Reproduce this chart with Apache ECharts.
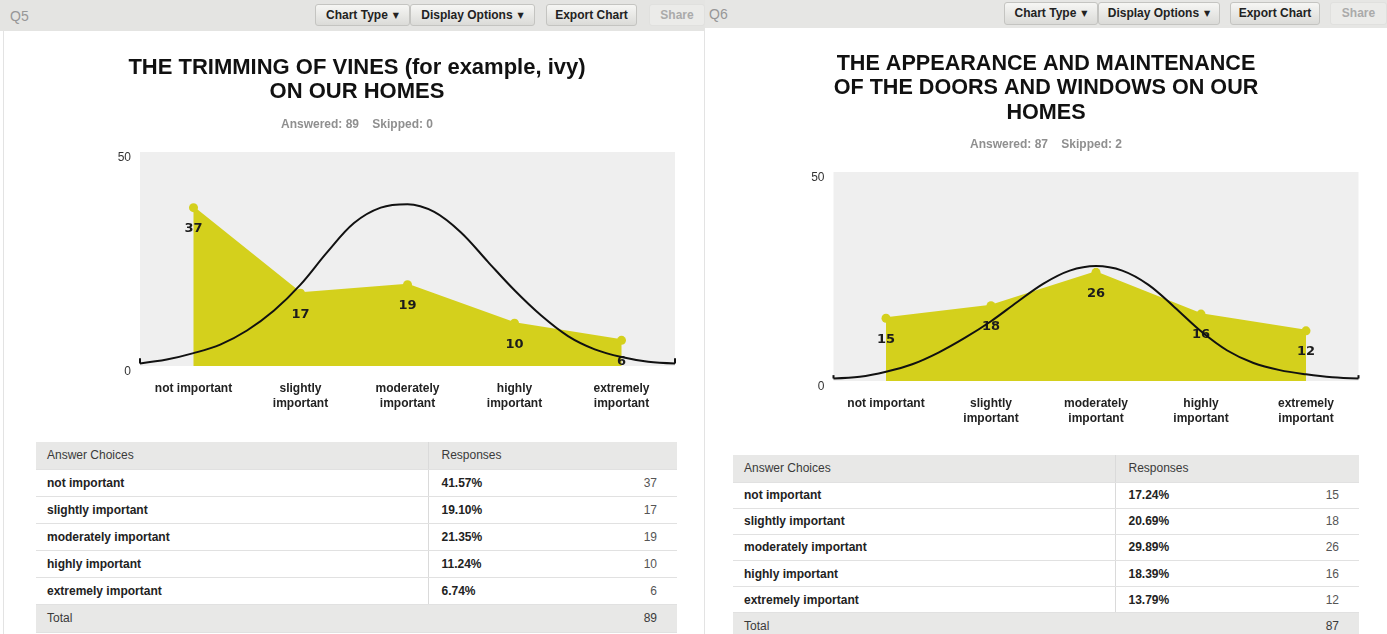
<!DOCTYPE html>
<html>
<head>
<meta charset="utf-8">
<script src="https://cdn.jsdelivr.net/npm/echarts@6/dist/echarts.min.js"></script>
<style>
body {
    margin: 0;
    width: 1387px;
    height: 634px;
    overflow: hidden;
    background: #fff;
    position: relative;
    font-family: "Liberation Sans", Arial, sans-serif;
}
.bar { position: absolute; top: 0; background: #e4e4e2; z-index: 2; }
.q { position: absolute; color: #979797; font-size: 14px; z-index: 3; }
.btn {
    position: absolute;
    box-sizing: border-box;
    font-size: 12px;
    font-weight: bold;
    color: #222;
    text-align: center;
    border: 1px solid #c4c4c1;
    border-radius: 3px;
    background: linear-gradient(#f6f6f4, #dbdbd8);
    z-index: 3;
}
.btn .arr { font-family: "DejaVu Sans"; font-size: 8px; margin-left: 5px; position: relative; top: -1px; }
.btn.off { color: #aaa; background: #ebebe9; border-color: #e0e0de; }
.frame { position: absolute; left: 3px; top: 30px; width: 700px; height: 610px; border: 1px solid #e3e3e3; }
.chart { position: absolute; top: 0; }
table { position: absolute; border-collapse: collapse; font-size: 12px; color: #222; table-layout: fixed; }
td { padding: 0; white-space: nowrap; border-bottom: 1px solid #e1e1e1; }
tr.head td, tr.total td { background: #e8e8e7; font-weight: normal; color: #3a3a3a; }
td.name { padding-left: 11px; font-weight: bold; }
td.pct { padding-left: 13px; font-weight: bold; border-left: 1px solid #dadada; }
td.cnt { text-align: right; padding-right: 20px; color: #555; }
tr.total td.pct { border-left: none; }
</style>
</head>
<body>
<div class="frame"></div>

<div class="bar" style="left:0;width:705px;height:31px"></div>
<div class="q" style="left:10px;top:8px">Q5</div>
<div class="btn" style="left:315px;top:4px;width:95px;height:22px;line-height:20px">Chart Type<span class="arr">▼</span></div>
<div class="btn" style="left:410px;top:4px;width:125px;height:22px;line-height:20px">Display Options<span class="arr">▼</span></div>
<div class="btn" style="left:546px;top:4px;width:91px;height:22px;line-height:20px">Export Chart</div>
<div class="btn off" style="left:649px;top:4px;width:56px;height:22px;line-height:20px">Share</div>

<div class="bar" style="left:705px;width:682px;height:28px;background:#e6e6e4"></div>
<div class="q" style="left:709px;top:6px">Q6</div>
<div class="btn" style="left:1004px;top:2px;width:94px;height:23px;line-height:21px">Chart Type<span class="arr">▼</span></div>
<div class="btn" style="left:1098px;top:2px;width:122px;height:23px;line-height:21px">Display Options<span class="arr">▼</span></div>
<div class="btn" style="left:1230px;top:2px;width:90px;height:23px;line-height:21px">Export Chart</div>
<div class="btn off" style="left:1330px;top:2px;width:57px;height:23px;line-height:21px">Share</div>

<div class="chart" id="chartQ5" style="left:0;width:714px;height:440px"></div>
<div class="chart" id="chartQ6" style="left:705px;width:682px;height:450px"></div>

<table id="tableQ5"></table>
<table id="tableQ6"></table>

<script>
// answer choices
const choices = ["not important", "slightly important", "moderately important", "highly important", "extremely important"]
const axisLabels = ["not important", "slightly\nimportant", "moderately\nimportant", "highly\nimportant", "extremely\nimportant"]

// Q5
const q5Title = ["THE TRIMMING OF VINES (for example, ivy)", "ON OUR HOMES"]
const q5Answered = 89
const q5Skipped = 0
const q5Counts = [37, 17, 19, 10, 6]
const q5Percents = ["41.57%", "19.10%", "21.35%", "11.24%", "6.74%"]

// Q6
const q6Title = ["THE APPEARANCE AND MAINTENANCE", "OF THE DOORS AND WINDOWS ON OUR", "HOMES"]
const q6Answered = 87
const q6Skipped = 2
const q6Counts = [15, 18, 26, 16, 12]
const q6Percents = ["17.24%", "20.69%", "29.89%", "18.39%", "13.79%"]

// bell curve at quarter steps of the category axis
const bellX = [-0.5, -0.25, 0, 0.25, 0.5, 0.75, 1, 1.25, 1.5, 1.75, 2, 2.25, 2.5, 2.75, 3, 3.25, 3.5, 3.75, 4, 4.25, 4.5]
const q5Bell = [0.6, 1.5, 3.0, 5.0, 8.3, 12.9, 19.0, 26.6, 33.4, 37.0, 37.8, 36.0, 31.2, 24.4, 17.7, 11.8, 7.0, 3.9, 2.1, 1.0, 0.6]
const q6Bell = [0.6, 1.0, 2.2, 4.0, 6.8, 10.3, 14.3, 18.9, 23.3, 26.4, 27.5, 26.4, 23.0, 17.6, 11.9, 7.3, 4.3, 2.6, 1.6, 0.9, 0.6]
const q5TickTop = 1.8
const q6TickTop = 1.4

const yTicks = [0, 50]

const fill = "#d4d01c"
const font = "Liberation Sans"

function makeOption(titleLines, sub, counts, bell, tickTop, g) {
    let titles = titleLines.map((t, i) => ({
        text: t,
        left: "center",
        top: g.titleTop + i * g.titleStep,
        padding: 0,
        textStyle: { fontFamily: font, fontSize: g.titleSize, fontWeight: "bold", color: "#111", lineHeight: 22 }
    }))
    titles.push({
        text: sub,
        left: "center",
        top: g.subTop,
        padding: 0,
        textStyle: { fontFamily: font, fontSize: 12, fontWeight: "bold", color: "#8f8f8f", lineHeight: 14 }
    })
    const last = bellX.length - 1
    return {
        animation: false,
        title: titles,
        grid: {
            left: g.left,
            right: g.right,
            top: g.top,
            height: g.height,
            show: true,
            backgroundColor: "#efefef",
            borderWidth: 0
        },
        xAxis: [
            {
                type: "category",
                data: axisLabels,
                boundaryGap: true,
                axisLine: { show: false },
                axisTick: { show: false },
                axisLabel: {
                    interval: 0,
                    margin: 15,
                    fontFamily: font,
                    fontSize: 12,
                    fontWeight: "bold",
                    color: "#222",
                    lineHeight: 15
                }
            },
            { type: "value", min: -0.5, max: 4.5, show: false }
        ],
        yAxis: {
            type: "value",
            min: yTicks[0],
            max: yTicks[1],
            interval: yTicks[1] - yTicks[0],
            splitLine: { show: false },
            axisLine: { show: false },
            axisTick: { show: false },
            axisLabel: { margin: 9, fontFamily: font, fontSize: 12, color: "#333", verticalAlign: "top", lineHeight: 12 }
        },
        series: [
            {
                type: "line",
                data: counts,
                symbol: "circle",
                symbolSize: 9,
                itemStyle: { color: fill },
                lineStyle: { color: fill, width: 2 },
                areaStyle: { color: fill, opacity: 1 },
                label: {
                    show: true,
                    position: "bottom",
                    distance: 10,
                    fontFamily: "DejaVu Sans",
                    fontWeight: "bold",
                    fontSize: 13,
                    color: "#1c1c1c"
                },
                z: 2
            },
            {
                type: "line",
                xAxisIndex: 1,
                data: bellX.map((x, i) => [x, bell[i]]),
                smooth: 0.35,
                symbol: "none",
                lineStyle: { color: "#111", width: 2 },
                z: 3
            },
            {
                type: "line",
                xAxisIndex: 1,
                data: [[bellX[0], tickTop], [bellX[0], bell[0]]],
                symbol: "none",
                lineStyle: { color: "#111", width: 2 },
                z: 3
            },
            {
                type: "line",
                xAxisIndex: 1,
                data: [[bellX[last], bell[last]], [bellX[last], tickTop]],
                symbol: "none",
                lineStyle: { color: "#111", width: 2 },
                z: 3
            }
        ]
    }
}

let chartA = echarts.init(document.getElementById("chartQ5"))
chartA.setOption(makeOption(q5Title, "Answered: " + q5Answered + "    Skipped: " + q5Skipped,
    q5Counts, q5Bell, q5TickTop,
    { titleTop: 57, titleStep: 24, titleSize: 22, subTop: 118, left: 140, right: 39, top: 152, height: 214 }))

let chartB = echarts.init(document.getElementById("chartQ6"))
chartB.setOption(makeOption(q6Title, "Answered: " + q6Answered + "    Skipped: " + q6Skipped,
    q6Counts, q6Bell, q6TickTop,
    { titleTop: 53, titleStep: 24.5, titleSize: 21.6, subTop: 138, left: 128.5, right: 28.5, top: 172, height: 209 }))

// response tables
function buildTable(id, percents, counts, total, g) {
    let t = document.getElementById(id)
    t.style.left = g.x + "px"
    t.style.top = g.y + "px"
    t.style.width = g.w + "px"
    let html = "<colgroup><col style='width:" + g.c1 + "px'><col style='width:" + g.c2 + "px'><col></colgroup>"
    html += "<tr class='head' style='height:" + g.hh + "px'><td class='name' style='font-weight:normal'>Answer Choices</td>"
        + "<td class='pct' colspan='2' style='font-weight:normal'>Responses</td></tr>"
    choices.forEach((c, i) => {
        html += "<tr style='height:" + g.rh + "px'><td class='name'>" + c + "</td><td class='pct'>"
            + percents[i] + "</td><td class='cnt'>" + counts[i] + "</td></tr>"
    })
    html += "<tr class='total' style='height:" + g.th + "px'><td class='name' style='font-weight:normal'>Total</td>"
        + "<td class='pct'></td><td class='cnt'>" + total + "</td></tr>"
    t.innerHTML = html
}

buildTable("tableQ5", q5Percents, q5Counts, q5Answered,
    { x: 36, y: 442, w: 641, c1: 392, c2: 150, hh: 27, rh: 27, th: 28 })
buildTable("tableQ6", q6Percents, q6Counts, q6Answered,
    { x: 733, y: 455, w: 626, c1: 382, c2: 150, hh: 27, rh: 26.2, th: 26 })
</script>
</body>
</html>
